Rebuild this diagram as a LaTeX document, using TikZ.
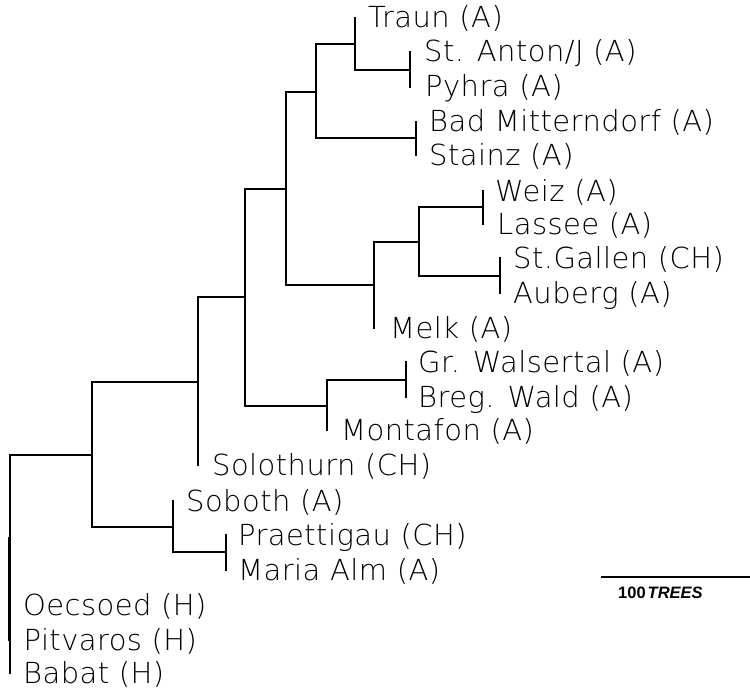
\documentclass[tikz,border=0pt]{standalone}
\usepackage{fontspec}
\setmainfont{DejaVu Sans ExtraLight}[LetterSpace=1.5]
\newfontfamily\scalefont{Liberation Sans}
\begin{document}
\begin{tikzpicture}[x=1pt,y=-1pt,
  branch/.style={line width=2pt,line cap=rect},
  taxon/.style={anchor=base west,inner sep=0pt,font=\fontsize{29}{30}\selectfont,xshift=13pt,yshift=-10pt},
  scalebar/.style={line width=1.5pt}]
\useasboundingbox (0,0) rectangle (750,690);
% leaves
\coordinate (Traun) at (355,18);
\coordinate (StAnton) at (410,52);
\coordinate (Pyhra) at (410,87);
\coordinate (BadM) at (416,122);
\coordinate (Stainz) at (416,155);
\coordinate (Weiz) at (483,191);
\coordinate (Lassee) at (483,224);
\coordinate (StGallen) at (500,258);
\coordinate (Auberg) at (500,293);
\coordinate (Melk) at (374,328);
\coordinate (GrW) at (406,362);
\coordinate (Breg) at (406,397);
\coordinate (Montafon) at (327,430);
\coordinate (Solothurn) at (198,465);
\coordinate (Soboth) at (173,501);
\coordinate (Praettigau) at (226,535);
\coordinate (MariaAlm) at (226,570);
\coordinate (Oecsoed) at (10,605);
\coordinate (Pitvaros) at (8.5,640);
\coordinate (Babat) at (10,673);
% internal nodes
\coordinate (nAP) at (410,70);
\coordinate (nT) at (355,44);
\coordinate (nBS) at (416,138);
\coordinate (n1) at (316,92);
\coordinate (nWL) at (483,207);
\coordinate (nGA) at (500,276);
\coordinate (n2) at (419,242);
\coordinate (n3) at (374,285);
\coordinate (n4) at (286,189);
\coordinate (nGB) at (406,380);
\coordinate (n5) at (327,406);
\coordinate (n6) at (245,297);
\coordinate (n7) at (198,382);
\coordinate (nPM) at (226,552);
\coordinate (n8) at (173,527);
\coordinate (n9) at (92,455);
\coordinate (root) at (10,564);
\coordinate (nH) at (8.5,589);
\coordinate (Htop) at (8.5,538);
% branches
\draw[branch] (nAP) -- (StAnton) (nAP) -- (Pyhra);
\draw[branch] (nT) |- (Traun) (nT) |- (nAP);
\draw[branch] (nBS) -- (BadM) (nBS) -- (Stainz);
\draw[branch] (n1) |- (nT) (n1) |- (nBS);
\draw[branch] (nWL) -- (Weiz) (nWL) -- (Lassee);
\draw[branch] (nGA) -- (StGallen) (nGA) -- (Auberg);
\draw[branch] (n2) |- (nWL) (n2) |- (nGA);
\draw[branch] (n3) |- (n2) (n3) |- (Melk);
\draw[branch] (n4) |- (n1) (n4) |- (n3);
\draw[branch] (nGB) -- (GrW) (nGB) -- (Breg);
\draw[branch] (n5) |- (nGB) (n5) |- (Montafon);
\draw[branch] (n6) |- (n4) (n6) |- (n5);
\draw[branch] (n7) |- (n6) (n7) |- (Solothurn);
\draw[branch] (nPM) -- (Praettigau) (nPM) -- (MariaAlm);
\draw[branch] (n8) |- (Soboth) (n8) |- (nPM);
\draw[branch] (n9) |- (n7) (n9) |- (n8);
\draw[branch] (root) |- (n9) (root) |- (Babat);
\draw[branch] (nH) -- (Htop) (nH) -- (Pitvaros);
% labels
\node[taxon] (lTraun) at (Traun) {Traun (A)};
\node[taxon,xshift=1pt] (lStAnton) at (StAnton) {St. Anton/J (A)};
\node[taxon,xshift=2pt] (lPyhra) at (Pyhra) {Pyhra (A)};
\node[taxon] (lBadM) at (BadM) {Bad Mitterndorf (A)};
\node[taxon] (lStainz) at (Stainz) {Stainz (A)};
\node[taxon,xshift=-1pt] (lWeiz) at (Weiz) {Weiz (A)};
\node[taxon,xshift=1pt] (lLassee) at (Lassee) {Lassee (A)};
\node[taxon] (lStGallen) at (StGallen) {St.Gallen (CH)};
\node[taxon] (lAuberg) at (Auberg) {Auberg (A)};
\node[taxon,xshift=3pt] (lMelk) at (Melk) {Melk (A)};
\node[taxon,xshift=-1pt] (lGrW) at (GrW) {Gr. Walsertal (A)};
\node[taxon,xshift=-1pt] (lBreg) at (Breg) {Breg. Wald (A)};
\node[taxon,xshift=1pt] (lMontafon) at (Montafon) {Montafon (A)};
\node[taxon,xshift=1pt] (lSolothurn) at (Solothurn) {Solothurn (CH)};
\node[taxon] (lSoboth) at (Soboth) {Soboth (A)};
\node[taxon,xshift=-1pt] (lPraettigau) at (Praettigau) {Praettigau (CH)};
\node[taxon,xshift=-1pt] (lMariaAlm) at (MariaAlm) {Maria Alm (A)};
\node[taxon] (lOecsoed) at (Oecsoed) {Oecsoed (H)};
\node[taxon,xshift=2pt] (lPitvaros) at (Pitvaros) {Pitvaros (H)};
\node[taxon] (lBabat) at (Babat) {Babat (H)};
% scale bar
\coordinate (sb1) at (601,577);
\coordinate (sb2) at (750,577);
\draw[scalebar] (sb1) -- (sb2);
\node[anchor=base west,inner sep=0pt,font=\scalefont\bfseries\fontsize{16.5}{18}\selectfont] (sblabel) at (618,598) {100\kern2pt\itshape TREES};
\end{tikzpicture}
\end{document}
